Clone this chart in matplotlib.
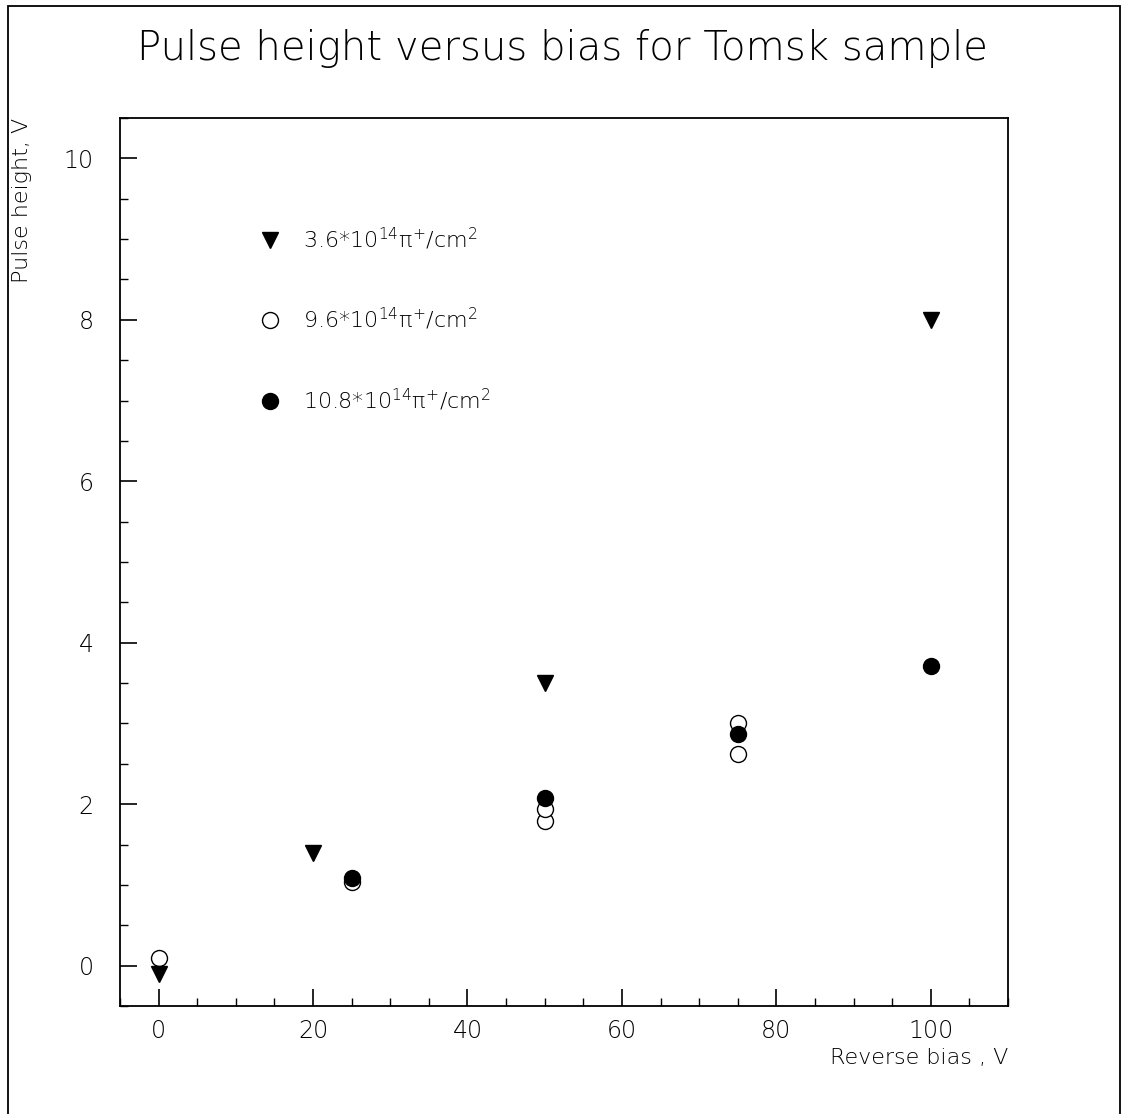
import matplotlib
matplotlib.use("Agg")
import matplotlib.pyplot as plt
from matplotlib.patches import Rectangle
from matplotlib.ticker import MultipleLocator

plt.rcParams["font.family"] = ["DejaVu Sans"]
plt.rcParams["font.weight"] = "light"
plt.rcParams["mathtext.fontset"] = "dejavusans"
plt.rcParams["mathtext.default"] = "regular"

# data
tri_x = [0, 20, 50, 100]
tri_y = [-0.1, 1.4, 3.5, 8.0]
open_x = [0, 25, 50, 50, 75, 75]
open_y = [0.1, 1.03, 1.79, 1.94, 2.62, 3.01]
fill_x = [25, 50, 75, 100]
fill_y = [1.08, 2.08, 2.87, 3.71]
labels = ["3.6*10$^{14}$π$^{+}$/cm$^{2}$",
          "9.6*10$^{14}$π$^{+}$/cm$^{2}$",
          "10.8*10$^{14}$π$^{+}$/cm$^{2}$"]

fig = plt.figure(figsize=(11.24, 11.14), dpi=100)
ax = fig.add_axes([120 / 1124, 1 - 1006 / 1114, 888 / 1124, 888 / 1114])

ax.plot(open_x, open_y, "o", ms=11.5, mfc="white", mec="black", mew=1.0, label=labels[1])
ax.plot(fill_x, fill_y, "o", ms=11.5, color="black", label=labels[2])
ax.plot(tri_x, tri_y, "v", ms=12, color="black", label=labels[0])

ax.set_xlim(-5, 110)
ax.set_ylim(-0.5, 10.5)
ax.xaxis.set_major_locator(MultipleLocator(20))
ax.xaxis.set_minor_locator(MultipleLocator(5))
ax.yaxis.set_major_locator(MultipleLocator(2))
ax.yaxis.set_minor_locator(MultipleLocator(0.5))
ax.tick_params(which="major", direction="in", length=12, width=1.2, labelsize=17,
               labelcolor="black")
ax.tick_params(axis="x", pad=9)
ax.tick_params(axis="y", pad=19)
ax.tick_params(which="minor", direction="in", length=6, width=1.0)
for s in ax.spines.values():
    s.set_linewidth(1.3)

# legend handles in the order shown
h, l = ax.get_legend_handles_labels()
order = [2, 0, 1]
leg = ax.legend([h[i] for i in order], [l[i] for i in order], loc="upper left",
                bbox_to_anchor=(0.146, 0.889), frameon=False, fontsize=16,
                numpoints=1, handlelength=1.0, handletextpad=1.0, labelspacing=2.45,
                borderaxespad=0)
for t in leg.get_texts():
    t.set_color("black")

fig.text(0.5, 1 - 48 / 1114, "Pulse height versus bias for Tomsk sample",
         ha="center", va="center", fontsize=29, fontweight="light")
fig.text(1008 / 1124, 1 - 1058 / 1114, "Reverse bias , V", ha="right", va="center",
         fontsize=16)
fig.text(22 / 1124, 1 - 118 / 1114, "Pulse height, V", rotation=90, ha="center", va="top",
         fontsize=16)

fig.patches.append(Rectangle((8 / 1124, -0.01), 1112 / 1124, 1 - 6 / 1114 + 0.01,
                             transform=fig.transFigure, fill=False, lw=1.3,
                             edgecolor="black"))

fig.savefig("out.png", dpi=100)
